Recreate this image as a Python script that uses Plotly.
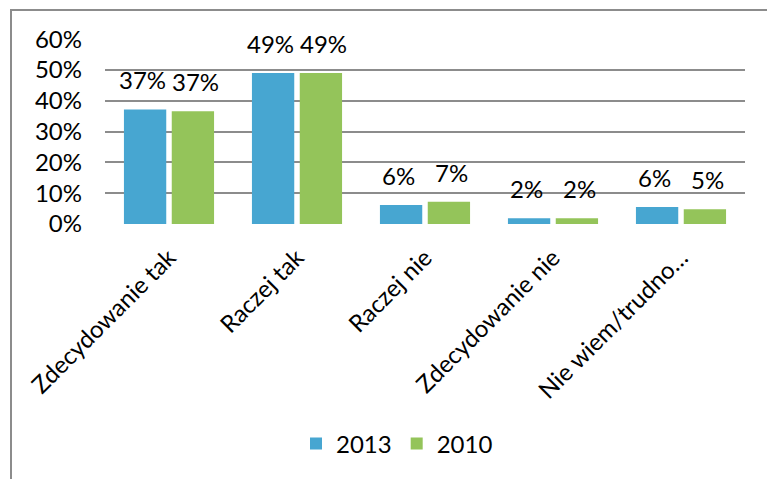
import plotly.graph_objects as go

# Survey answers and shares per year
categories = ["Zdecydowanie tak", "Raczej tak", "Raczej nie", "Zdecydowanie nie", "Nie wiem/trudno…"]
series_names = ["2013", "2010"]
values_2013 = [0.372, 0.490, 0.062, 0.019, 0.055]
values_2010 = [0.366, 0.490, 0.072, 0.019, 0.048]
colors = ["#47A6D1", "#94C45A"]
y_ticks = [0.0, 0.1, 0.2, 0.3, 0.4, 0.5, 0.6]

FONT = "Lato"
FS = 24
W, H = 767, 479
L, R, T, B = 105, 22, 39, 255
plot_w = W - L - R
plot_h = H - T - B

fig = go.Figure()
for name, vals, col in zip(series_names, [values_2013, values_2010], colors):
    fig.add_trace(go.Bar(
        x=categories, y=vals, name=name, marker_color=col,
        marker_line_width=0,
    ))

# Value labels above each bar
bar_offset = 26.5
for vals, shift in zip([values_2013, values_2010], [-bar_offset, bar_offset]):
    for cat, v in zip(categories, vals):
        fig.add_annotation(
            x=cat, y=v, xref="x", yref="y", text=f"{round(v * 100)}%",
            showarrow=False, xshift=shift, yshift=13, yanchor="bottom",
            font=dict(family=FONT, size=FS, color="#000000"),
        )

# Chart frame (left and top edges show within the page)
def px_x(p):
    return (p - L) / plot_w

def px_y(p):
    return (H - B - p) / plot_h

fig.add_shape(
    type="rect", xref="paper", yref="paper",
    x0=px_x(11), x1=px_x(820), y0=px_y(530), y1=px_y(10),
    line=dict(color="#8C8C8C", width=2), fillcolor="rgba(0,0,0,0)",
    layer="below",
)

fig.update_layout(
    width=W, height=H,
    margin=dict(l=L, r=R, t=T, b=B, pad=0),
    paper_bgcolor="white", plot_bgcolor="white",
    barmode="group", bargap=0.253, bargroupgap=0.115,
    font=dict(family=FONT, size=FS, color="#000000"),
    showlegend=True,
    legend=dict(
        orientation="h", x=px_x(397), y=px_y(444),
        xanchor="center", yanchor="middle",
        font=dict(family=FONT, size=FS), itemwidth=30,
        bgcolor="rgba(0,0,0,0)",
    ),
)
fig.update_yaxes(
    range=[0, 0.6005], tickvals=y_ticks, tickformat=".0%",
    showgrid=True, gridcolor="#8C8C8C", gridwidth=2,
    zeroline=False, showline=False, ticks="",
    ticklabelstandoff=22, tickfont=dict(family=FONT, size=FS),
)
fig.update_xaxes(
    tickangle=-45, showgrid=False, showline=False, ticks="",
    ticklabelstandoff=14, tickfont=dict(family=FONT, size=FS),
)

fig.write_html("out.html")
